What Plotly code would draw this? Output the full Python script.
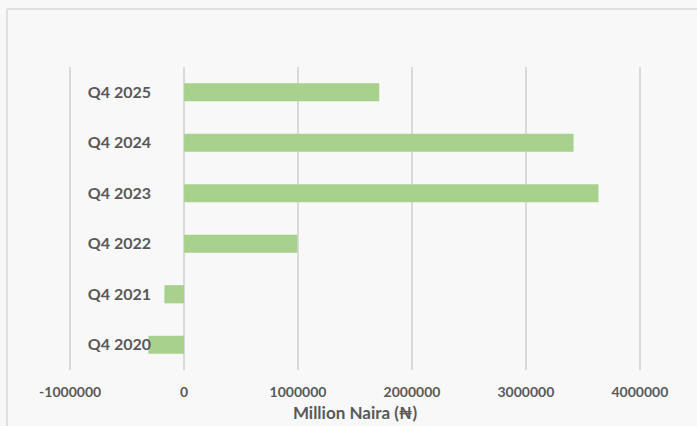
import plotly.graph_objects as go

categories = ["Q4 2020", "Q4 2021", "Q4 2022", "Q4 2023", "Q4 2024", "Q4 2025"]
values = [-313000, -173000, 994000, 3637000, 3418000, 1713000]
tick_vals = [-1000000, 0, 1000000, 2000000, 3000000, 4000000]
tick_text = ["-1000000", "0", "1000000", "2000000", "3000000", "4000000"]
x_title = "Million Naira (₦)"

W, H = 697, 426
L, R, T, B = 69, 56, 67, 56
pw = W - L - R
ph = H - T - B

fig = go.Figure(
    go.Bar(
        y=categories,
        x=values,
        orientation="h",
        marker=dict(color="#a9d18e", line=dict(width=0)),
        width=0.36,
    )
)

font_fam = "Lato, Open Sans, sans-serif"
fig.update_layout(
    width=W,
    height=H,
    margin=dict(l=L, r=R, t=T, b=B),
    paper_bgcolor="#f8f8f8",
    plot_bgcolor="#f8f8f8",
    showlegend=False,
    xaxis=dict(
        range=[-1010000, 4010000],
        tickvals=tick_vals,
        ticktext=tick_text,
        showgrid=True,
        gridcolor="#d9d9d9",
        gridwidth=1.5,
        zeroline=True,
        zerolinecolor="#d9d9d9",
        zerolinewidth=1.5,
        showline=False,
        ticks="",
        automargin=False,
        ticklabelstandoff=12,
        tickfont=dict(family=font_fam, size=14, color="#595959", weight="bold"),
        title=dict(text=x_title, font=dict(family=font_fam, size=17, color="#595959", weight="bold"), standoff=8),
        fixedrange=True,
    ),
    yaxis=dict(
        categoryorder="array",
        categoryarray=categories,
        showgrid=False,
        zeroline=False,
        showline=False,
        ticks="",
        automargin=False,
        anchor="free",
        position=(151 - L) / pw,
        tickfont=dict(family=font_fam, size=16, color="#595959", weight="bold"),
        fixedrange=True,
    ),
)
# border lines (left and top)
left_x = (7 - L) / pw
top_y = 1 + (T - 9) / ph
fig.layout.shapes = [
    dict(type="line", xref="paper", yref="paper", x0=left_x, x1=left_x, y0=top_y, y1=-1,
         line=dict(color="#e0e0e0", width=2)),
    dict(type="line", xref="paper", yref="paper", x0=left_x, x1=2, y0=top_y, y1=top_y,
         line=dict(color="#e0e0e0", width=2)),
]

fig.write_html("out.html")
